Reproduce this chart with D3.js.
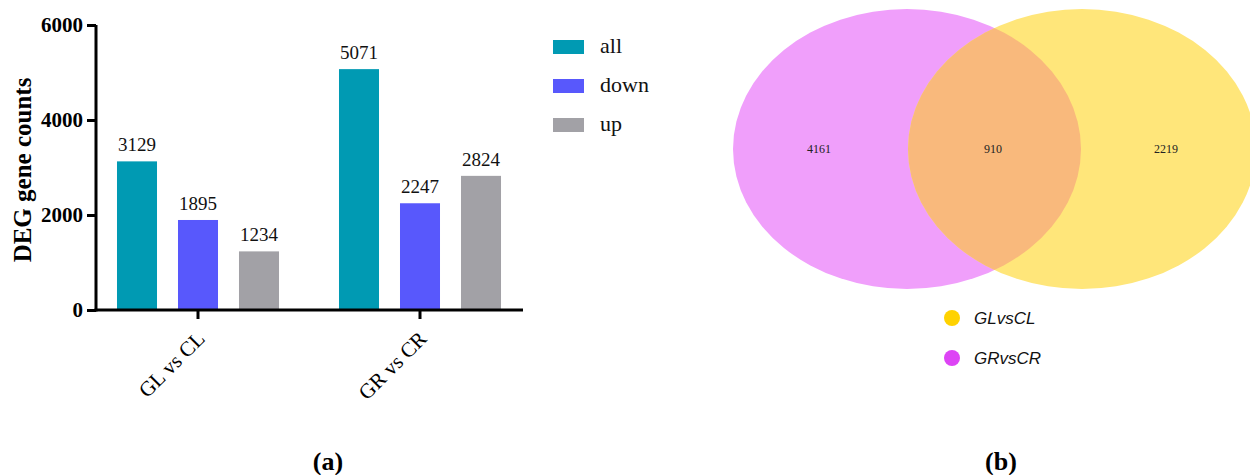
<!DOCTYPE html>
<html>
<head>
<meta charset="utf-8">
<script src="https://cdn.jsdelivr.net/npm/d3@7"></script>
<style>
html,body{margin:0;padding:0;background:#fff;}
svg{display:block;}
</style>
</head>
<body>
<svg id="chart" width="1250" height="475"></svg>
<script>
// ---- data ----
const groups = ["GL vs CL", "GR vs CR"];
const seriesNames = ["all", "down", "up"];
const allVals = [3129, 5071];
const downVals = [1895, 2247];
const upVals = [1234, 2824];
const yTicks = [0, 2000, 4000, 6000];
const vennSets = ["GLvsCL", "GRvsCR"];
const vennOnlyGR = 4161;
const vennShared = 910;
const vennOnlyGL = 2219;

const seriesColors = ["#009AB3", "#5858FC", "#A2A1A6"];
const seriesVals = [allVals, downVals, upVals];

const svg = d3.select("#chart");
const serif = "'Liberation Serif', 'Times New Roman', serif";

// ---- panel (a) ----
const y = d3.scaleLinear().domain([0, 6000]).range([310, 25]);
const x0 = d3.scaleBand().domain(groups).range([87, 531]).padding(0);
const x1 = d3.scaleBand().domain(seriesNames).range([-91.5, 91.5]).paddingInner(0.344).paddingOuter(0.172);

const data = [];
groups.forEach((g, gi) => {
  seriesNames.forEach((s, si) => {
    data.push({g, s, v: seriesVals[si][gi], c: seriesColors[si]});
  });
});

const gA = svg.append("g");

gA.selectAll("rect.bar").data(data).enter().append("rect")
  .attr("class", "bar")
  .attr("x", d => x0(d.g) + x0.bandwidth() / 2 + x1(d.s))
  .attr("width", x1.bandwidth())
  .attr("y", d => y(d.v))
  .attr("height", d => y(0) - y(d.v))
  .attr("fill", d => d.c);

gA.selectAll("text.val").data(data).enter().append("text")
  .attr("class", "val")
  .attr("x", d => x0(d.g) + x0.bandwidth() / 2 + x1(d.s) + x1.bandwidth() / 2)
  .attr("y", d => y(d.v) - 10)
  .attr("text-anchor", "middle")
  .attr("font-family", serif)
  .attr("font-size", 19)
  .attr("fill", "#111")
  .text(d => d.v);

// y axis
const yAxis = d3.axisLeft(y).tickValues(yTicks).tickSize(9).tickPadding(4).tickFormat(d3.format("d"));
const gy = gA.append("g").attr("transform", "translate(96,0)").call(yAxis);
gy.select(".domain").attr("stroke", "#000").attr("stroke-width", 3).attr("d", "M0," + (y(0) + 1.5) + "V" + y(6000));
gy.selectAll(".tick line").attr("stroke", "#000").attr("stroke-width", 3);
gy.selectAll(".tick text").attr("font-family", serif).attr("font-weight", "bold").attr("font-size", 21).attr("fill", "#000");

// x axis
const xAxis = d3.axisBottom(x0).tickSize(9).tickFormat("");
const gx = gA.append("g").attr("transform", "translate(0," + y(0) + ")").call(xAxis);
gx.select(".domain").attr("stroke", "#000").attr("stroke-width", 3).attr("d", "M94.5,0H523");
gx.selectAll(".tick line").attr("stroke", "#000").attr("stroke-width", 3);

gA.selectAll("text.xlab").data(groups).enter().append("text")
  .attr("class", "xlab")
  .attr("transform", d => "translate(" + (x0(d) + x0.bandwidth() / 2 + 8) + "," + (y(0) + 30) + ") rotate(-45)")
  .attr("text-anchor", "end")
  .attr("font-family", serif)
  .attr("font-size", 21)
  .attr("fill", "#000")
  .text(d => d);

// y title
gA.append("text")
  .attr("transform", "translate(31,170) rotate(-90)")
  .attr("text-anchor", "middle")
  .attr("font-family", serif)
  .attr("font-weight", "bold")
  .attr("font-size", 25)
  .attr("fill", "#000")
  .text("DEG gene counts");

// legend
const leg = gA.selectAll("g.leg").data(seriesNames).enter().append("g")
  .attr("class", "leg")
  .attr("transform", (d, i) => "translate(553," + (40 + i * 39) + ")");
leg.append("rect").attr("width", 31).attr("height", 14).attr("fill", (d, i) => seriesColors[i]);
leg.append("text").attr("x", 47).attr("y", 13)
  .attr("font-family", serif).attr("font-size", 22).attr("fill", "#111").text(d => d);

// (a)
svg.append("text").attr("x", 328).attr("y", 470).attr("text-anchor", "middle")
  .attr("font-family", serif).attr("font-weight", "bold").attr("font-size", 26).text("(a)");

// ---- panel (b) Venn ----
const gB = svg.append("g");
const ell = {cxL: 907, cxR: 1082, cy: 149, rx: 174, ry: 140};
const defs = svg.append("defs");
defs.append("clipPath").attr("id", "clipR").append("ellipse")
  .attr("cx", ell.cxR).attr("cy", ell.cy).attr("rx", ell.rx).attr("ry", ell.ry);

gB.append("ellipse").attr("cx", ell.cxL).attr("cy", ell.cy).attr("rx", ell.rx).attr("ry", ell.ry).attr("fill", "#F09FFB");
gB.append("ellipse").attr("cx", ell.cxR).attr("cy", ell.cy).attr("rx", ell.rx).attr("ry", ell.ry).attr("fill", "#FFE67A");
gB.append("ellipse").attr("cx", ell.cxL).attr("cy", ell.cy).attr("rx", ell.rx).attr("ry", ell.ry)
  .attr("clip-path", "url(#clipR)").attr("fill", "#F9B97C");

const vennLabels = [
  {x: 819, v: vennOnlyGR},
  {x: 993, v: vennShared},
  {x: 1166, v: vennOnlyGL}
];
gB.selectAll("text.vl").data(vennLabels).enter().append("text")
  .attr("class", "vl")
  .attr("x", d => d.x).attr("y", ell.cy + 4)
  .attr("text-anchor", "middle")
  .attr("font-family", serif).attr("font-size", 12).attr("fill", "#222")
  .text(d => d.v);

const vennColors = ["#FFD200", "#DD44F5"];
const vl = gB.selectAll("g.vleg").data(vennSets).enter().append("g")
  .attr("class", "vleg")
  .attr("transform", (d, i) => "translate(952," + (318 + i * 40) + ")");
vl.append("circle").attr("r", 8).attr("fill", (d, i) => vennColors[i]);
vl.append("text").attr("x", 22).attr("y", 6)
  .attr("font-family", "'Liberation Sans', Arial, sans-serif").attr("font-style", "italic")
  .attr("font-size", 17).attr("fill", "#111").text(d => d);

svg.append("text").attr("x", 1001).attr("y", 470).attr("text-anchor", "middle")
  .attr("font-family", serif).attr("font-weight", "bold").attr("font-size", 26).text("(b)");
</script>
</body>
</html>
